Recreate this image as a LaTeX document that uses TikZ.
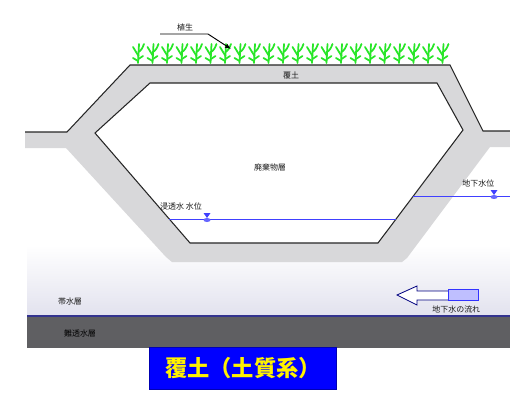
\documentclass[tikz,border=0pt]{standalone}
\usepackage{fontspec}
\newfontfamily\jp{Noto Sans CJK JP}
\usetikzlibrary{positioning, calc, arrows.meta}
\definecolor{grassgreen}{RGB}{40,230,40}
\definecolor{linergray}{RGB}{216,216,218}
\definecolor{aquitard}{RGB}{95,95,98}
\definecolor{aquifer}{RGB}{226,226,238}

\begin{document}
\begin{tikzpicture}[
        x=0.03cm, y=-0.03cm,
        tag/.style={font=\jp\fontsize{6.8}{7}\selectfont, text=black!90, inner sep=1pt},
        outline/.style={draw=black!85, line width=0.9pt},
        waterline/.style={draw=blue!75, line width=0.6pt},
        grass/.style={draw=grassgreen, line width=1.5pt, line cap=round},
        titlebox/.style={fill=blue, draw=blue!70!black, minimum width=5.6cm, minimum height=1.25cm, text=yellow, font=\jp\bfseries\fontsize{19}{21}\selectfont}
    ]
        \useasboundingbox (0,0) rectangle (510,394);

        % Ground layers
        \shade[top color=white, bottom color=aquifer] (27,245) rectangle (510,316);
        \fill[aquitard] (27,316) rectangle (510,348);
        \draw[blue!45!black!80, line width=0.9pt] (27,316) -- (510,316);

        % Liner (cover soil and walls)
        \fill[linergray] (25,132) -- (67,132) -- (130,65) -- (450,65) -- (483,131) -- (510,131)
            -- (510,147) -- (490,147) -- (407,258) -- (402,262) -- (172,262) -- (166,257)
            -- (66,148) -- (25,148) -- cycle;
        \draw[outline] (25,132) -- (67,132) -- (130,65) -- (450,65) -- (483,131) -- (510,131);

        % Waste body
        \draw[outline, fill=white] (150,83) -- (437,83) -- (463,130) -- (378,243)
            -- (190,243) -- (95,133) -- cycle;

        % Vegetation
        \foreach \gx in {138,152.5,...,445} {
            \draw[grass] (\gx,63) -- (\gx+1,44);
            \draw[grass] (\gx+0.5,56) .. controls (\gx-3,52) .. (\gx-5,47);
            \draw[grass] (\gx+0.7,52) .. controls (\gx+4,49) .. (\gx+6,44);
            \draw[grass] (\gx,61) -- (\gx-5,58);
            \draw[grass] (\gx+0.5,59) -- (\gx+5,56);
        }

        % Water levels
        \coordinate (leachL) at (169,219);
        \coordinate (leachR) at (396,219);
        \draw[waterline] (leachL) -- (leachR);
        \coordinate (gwL) at (413,196);
        \coordinate (gwR) at (510,196);
        \draw[waterline] (gwL) -- (gwR);
        \foreach \mx/\my in {207/219, 494/196} {
            \fill[blue!75] (\mx-3.5,\my-6) -- (\mx+3.5,\my-6) -- (\mx,\my-1) -- cycle;
            \fill[blue!60] (\mx,\my+1) ellipse (3.5 and 2);
        }

        % Groundwater flow
        \draw[blue!50!black, fill=white, line width=0.7pt] (397,295) -- (417,286) -- (417,291)
            -- (449,291) -- (449,300) -- (417,300) -- (417,305) -- cycle;
        \node[draw=blue!80, fill=blue!25, minimum width=0.9cm, minimum height=0.33cm, inner sep=0pt] (flowbox) at (463,295) {};

        % Labels
        \node[tag] (veg) at (185,27) {植生};
        \coordinate (vegL) at (160,34);
        \coordinate (vegM) at (208,34);
        \coordinate (vegTip) at (231,49);
        \draw[line width=0.8pt, -{Latex[length=5pt, width=4pt]}] (vegL) -- (vegM) -- (vegTip);
        \node[tag] (cover) at (291,75) {覆土};
        \node[tag] (waste) at (270,167) {廃棄物層};
        \node[tag] (leach) at (181,206) {浸透水 水位};
        \node[tag] (aquif) at (70,301) {帯水層};
        \node[tag, text=black] (aqtd) at (80,333) {難透水層};
        \begin{scope}
            \clip (0,0) rectangle (510,394);
            \node[tag, anchor=west] (gwlevel) at (461,183) {地下水位};
            \node[tag, anchor=west] (gwflow) at (431,309) {地下水の流れ};
        \end{scope}

        % Title
        \node[titlebox] (title) at (243,368) {覆土（土質系）};
    \end{tikzpicture}
\end{document}
